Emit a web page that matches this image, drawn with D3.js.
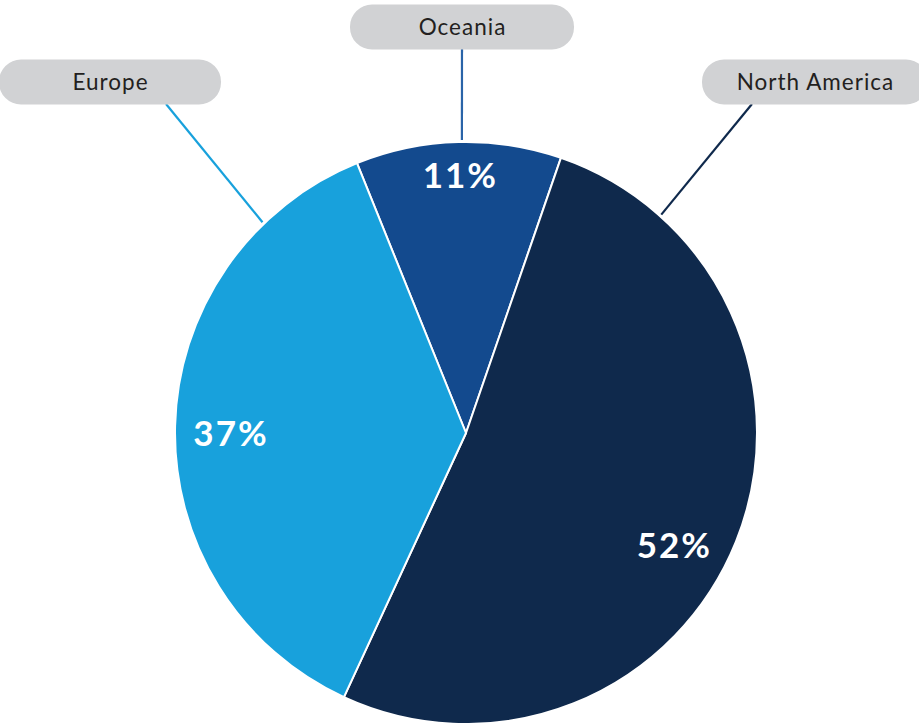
<!DOCTYPE html>
<html>
<head>
<meta charset="utf-8">
<script src="https://cdn.jsdelivr.net/npm/d3@7"></script>
<style>
  html, body { margin: 0; padding: 0; background: #ffffff; }
  svg { display: block; }
</style>
</head>
<body>
<svg id="chart" width="919" height="723"></svg>
<script>
const categories = ["Oceania", "North America", "Europe"];
const values = [11.4, 51.6, 37.0];
const percentLabels = ["11%", "52%", "37%"];
const colors = ["#134a8e", "#0f294c", "#18a1dc"];
const leaderColors = ["#2a64a8", "#0f294c", "#18a1dc"];

const W = 919, H = 723;
const cx = 466, cy = 433, R = 291;
const startDeg = -22;

// label layout (box centers and percent-label placement)
const boxes = {
  "Oceania":       { x: 462, y: 27, w: 224, h: 45 },
  "North America": { x: 815, y: 82, w: 226, h: 45 },
  "Europe":        { x: 110, y: 82, w: 222, h: 45 }
};
const pctPlace = {
  "Oceania":       { r: 258, dAngle: 0.0 },
  "North America": { r: 236, dAngle: 6.6 },
  "Europe":        { r: 236, dAngle: -1.4 }
};
const leaders = [
  { cat: "Oceania",       from: [462, 49],  toAngle: -0.8, r: 293 },
  { cat: "North America", from: [752, 104], toAngle: 41.8, r: 293 },
  { cat: "Europe",        from: [166, 104], toAngle: -44,  r: 293 }
];

const svg = d3.select("#chart");
const data = categories.map((c, i) => ({ cat: c, value: values[i], pct: percentLabels[i], color: colors[i], lc: leaderColors[i] }));

const pie = d3.pie().value(d => d.value).sort(null)
  .startAngle(startDeg * Math.PI / 180)
  .endAngle(startDeg * Math.PI / 180 + 2 * Math.PI);
const arcs = pie(data);
const arc = d3.arc().innerRadius(0).outerRadius(R);

// leader lines (under slices)
leaders.forEach(l => {
  const d = data.find(x => x.cat === l.cat);
  const a = l.toAngle * Math.PI / 180;
  const tx = cx + l.r * Math.sin(a), ty = cy - l.r * Math.cos(a);
  svg.append("line")
    .attr("x1", l.from[0]).attr("y1", l.from[1])
    .attr("x2", tx).attr("y2", ty)
    .attr("stroke", d.lc).attr("stroke-width", 2.2);
});

const g = svg.append("g").attr("transform", `translate(${cx},${cy})`);

g.selectAll("path.slice").data(arcs).join("path")
  .attr("class", "slice")
  .attr("d", arc)
  .attr("fill", d => d.data.color)
  .attr("stroke", "#ffffff")
  .attr("stroke-width", 2)
  .attr("stroke-linejoin", "round");

// percent labels
g.selectAll("text.pct").data(arcs).join("text")
  .attr("class", "pct")
  .attr("transform", d => {
    const p = pctPlace[d.data.cat];
    const a = (d.startAngle + d.endAngle) / 2 + p.dAngle * Math.PI / 180;
    return `translate(${p.r * Math.sin(a) + 1},${-p.r * Math.cos(a)})`;
  })
  .attr("text-anchor", "middle")
  .attr("dy", "0.36em")
  .attr("fill", "#ffffff")
  .style("font-family", "Lato, 'Open Sans', sans-serif")
  .style("font-weight", 700)
  .style("font-size", "35px")
  .style("letter-spacing", "2px")
  .text(d => d.data.pct);

// category boxes
const bg = svg.selectAll("g.box").data(data).join("g").attr("class", "box")
  .attr("transform", d => `translate(${boxes[d.cat].x},${boxes[d.cat].y})`);
bg.append("rect")
  .attr("x", d => -boxes[d.cat].w / 2)
  .attr("y", d => -boxes[d.cat].h / 2)
  .attr("width", d => boxes[d.cat].w)
  .attr("height", d => boxes[d.cat].h)
  .attr("rx", 22).attr("ry", 22)
  .attr("fill", "#d1d2d4");
bg.append("text")
  .attr("text-anchor", "middle")
  .attr("x", 0.5)
  .attr("dy", "0.35em")
  .attr("fill", "#231f20")
  .style("font-family", "Lato, 'Open Sans', sans-serif")
  .style("font-weight", 400)
  .style("font-size", "22.5px")
  .style("letter-spacing", "1px")
  .text(d => d.cat);
</script>
</body>
</html>
